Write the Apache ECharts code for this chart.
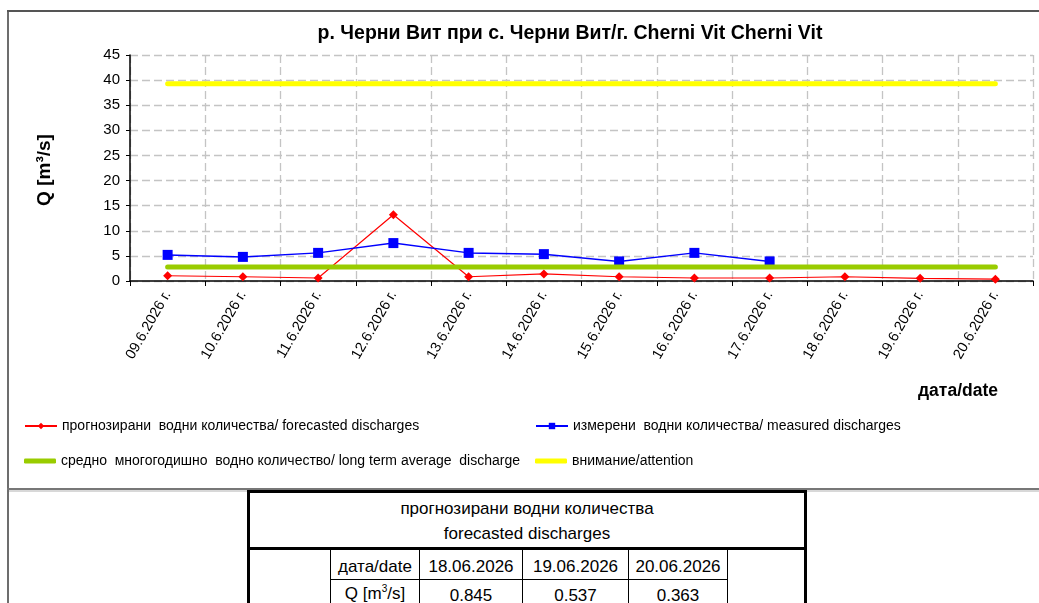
<!DOCTYPE html>
<html><head><meta charset="utf-8">
<script src="https://cdn.jsdelivr.net/npm/echarts@6/dist/echarts.min.js"></script>
<style>
html,body{margin:0;padding:0;background:#fff;}
#wrap{position:relative;width:1039px;height:603px;overflow:hidden;}
#chart{position:absolute;left:0;top:0;width:1039px;height:603px;}
#frameL{position:absolute;left:7px;top:11px;width:2px;height:600px;background:#6d6d6d;}
#frameT{position:absolute;left:7px;top:10px;width:1040px;height:2px;background:#555;}
#frameB{position:absolute;left:7px;top:488px;width:1040px;height:2px;background:#777;}
#cellLine{position:absolute;left:9px;top:490px;width:1030px;height:2px;background:#d8d8d8;}
#tbl{position:absolute;left:247px;top:490px;border-collapse:collapse;font-family:"Liberation Sans",Arial,sans-serif;font-size:17px;color:#000;background:#fff;}
#tbl td{padding:0;text-align:center;border:1.5px solid #000;}
#tbl .thick{border:3px solid #000;}
</style></head>
<body><div id="wrap">
<div id="chart"></div>
<div id="cellLine"></div>
<div id="frameL"></div><div id="frameT"></div><div id="frameB"></div>
<table id="tbl"></table>
</div>
<script>
const categories = ["09.6.2026 г.","10.6.2026 г.","11.6.2026 г.","12.6.2026 г.","13.6.2026 г.","14.6.2026 г.","15.6.2026 г.","16.6.2026 г.","17.6.2026 г.","18.6.2026 г.","19.6.2026 г.","20.6.2026 г."];
const forecasted = [1.05, 0.85, 0.6, 13.2, 0.85, 1.4, 0.85, 0.6, 0.6, 0.845, 0.537, 0.363];
const measured = [5.2, 4.8, 5.6, 7.55, 5.6, 5.35, 3.9, 5.6, 3.9, null, null, null];
const longTermAverage = [2.8, 2.8, 2.8, 2.8, 2.8, 2.8, 2.8, 2.8, 2.8, 2.8, 2.8, 2.8];
const attention = [39.3, 39.3, 39.3, 39.3, 39.3, 39.3, 39.3, 39.3, 39.3, 39.3, 39.3, 39.3];
const seriesNames = ["прогнозирани  водни количества/ forecasted discharges","измерени  водни количества/ measured discharges","средно  многогодишно  водно количество/ long term average  discharge","внимание/attention"];
const tableDates = ["18.06.2026","19.06.2026","20.06.2026"];
const tableValues = ["0.845","0.537","0.363"];
const yTicks = {min:0, max:45, interval:5};

// table
(function(){
  const t = document.getElementById('tbl');
  const widths = [82, 89, 103, 106, 99, 78];
  let h = '<colgroup>' + widths.map(w=>'<col style="width:'+w+'px">').join('') + '</colgroup>';
  h += '<tr><td class="thick" colspan="6" style="height:53px;line-height:25px;padding-top:1px">прогнозирани водни количества<br>forecasted discharges</td></tr>';
  h += '<tr style="height:31px"><td rowspan="2" style="border-left:3px solid #000;border-top:3px solid #000;"></td><td style="border-top:3px solid #000;padding-top:4px">дата/date</td>' + tableDates.map(d=>'<td style="border-top:3px solid #000;padding-top:4px">'+d+'</td>').join('') + '<td rowspan="2" style="border-right:3px solid #000;border-top:3px solid #000;"></td></tr>';
  h += '<tr style="height:34px"><td style="vertical-align:top;padding-top:3px">Q [m<sup style="font-size:10px">3</sup>/s]</td>' + tableValues.map(v=>'<td style="vertical-align:top;padding-top:6px">'+v+'</td>').join('') + '</tr>';
  t.innerHTML = h;
})();

const chart = echarts.init(document.getElementById('chart'), null, {renderer:'canvas'});
const FONT = '"Liberation Sans", Arial, sans-serif';
const legendText = {fontFamily: FONT, fontSize: 14, color:'#000'};
function leg(name, left, top, thick) {
  const o = {left: left, top: top, itemWidth: 32, itemGap: 4, data: [name], textStyle: legendText, padding: 0};
  if (thick) { o.itemHeight = 5; o.icon = 'roundRect'; } else { o.itemHeight = 8; }
  return o;
}
chart.setOption({
  backgroundColor: 'transparent',
  animation: false,
  title: {
    text: 'р. Черни Вит при с. Черни Вит/г. Cherni Vit Cherni Vit',
    left: 565, top: 19, textAlign: 'center',
    textStyle: {fontFamily: FONT, fontSize: 19.5, fontWeight: 'bold', color: '#000'}
  },
  grid: {left: 130, right: 6, top: 55, bottom: 322},
  legend: [
    leg(seriesNames[0], 24, 419, false),
    leg(seriesNames[1], 535, 419, false),
    leg(seriesNames[2], 24, 454, true),
    leg(seriesNames[3], 535, 454, true)
  ],
  xAxis: {
    type: 'category', data: categories, boundaryGap: true,
    axisLine: {lineStyle: {color: '#000', width: 1.5}},
    axisTick: {show: true, interval: 0, length: 5, lineStyle: {color: '#000'}},
    axisLabel: {interval: 0, rotate: 60, margin: 11, fontFamily: FONT, fontSize: 14.5, color: '#000'},
    splitLine: {show: true, interval: 0, lineStyle: {color: '#c4c4c4', type: [8, 4], width: 1.3}}
  },
  yAxis: {
    type: 'value', min: yTicks.min, max: yTicks.max, interval: yTicks.interval,
    axisLine: {show: true, lineStyle: {color: '#000', width: 1.5}},
    axisTick: {show: true, length: 4, lineStyle: {color: '#000'}},
    axisLabel: {fontFamily: FONT, fontSize: 15, color: '#000', margin: 10},
    splitLine: {show: true, lineStyle: {color: '#c4c4c4', type: [8, 4], width: 1.3}}
  },
  graphic: [
    {type: 'text', left: 918, top: 382, style: {text: 'дата/date', font: 'bold 17.5px ' + FONT, fill: '#000'}},
    {type: 'text', x: 45, y: 170, rotation: Math.PI/2, style: {text: 'Q [m³/s]', font: 'bold 19px ' + FONT, fill: '#000', align: 'center', verticalAlign: 'middle'}}
  ],
  series: [
    {name: seriesNames[0], type: 'line', data: forecasted, symbol: 'diamond', symbolSize: 9,
     itemStyle: {color: '#ff0000'}, lineStyle: {color: '#ff0000', width: 1.2}, z: 3},
    {name: seriesNames[1], type: 'line', data: measured, symbol: 'rect', symbolSize: 10,
     itemStyle: {color: '#0000ff'}, lineStyle: {color: '#0000ff', width: 1.5}, z: 3},
    {name: seriesNames[2], type: 'line', data: longTermAverage, symbol: 'none',
     itemStyle: {color: '#99cc00'}, lineStyle: {color: '#99cc00', width: 5, cap: 'round'}, z: 4},
    {name: seriesNames[3], type: 'line', data: attention, symbol: 'none',
     itemStyle: {color: '#ffff00'}, lineStyle: {color: '#ffff00', width: 5, cap: 'round'}, z: 4}
  ]
});
</script>
</body></html>
